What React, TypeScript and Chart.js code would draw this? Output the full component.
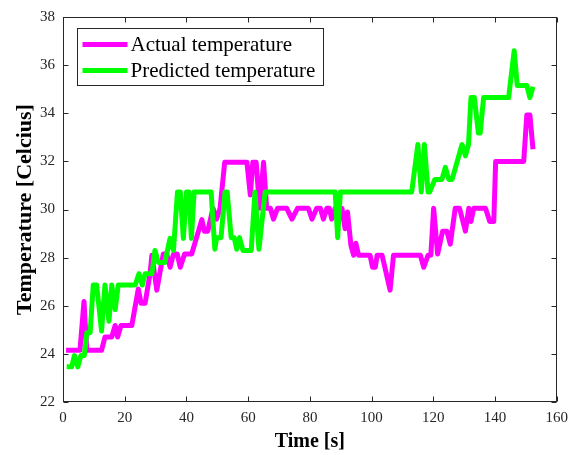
import React, { useEffect, useRef } from "react";
import { Chart, registerables } from "chart.js";

Chart.register(...registerables);

// ---- Data ----
const actualTime = [
  1, 5.5, 6.8, 7.7, 12.5, 13.6, 15.8, 16.9, 17.7, 18.8, 22.3, 24.4, 25.3, 26.6,
  28.2, 28.8, 30.4, 32.5, 33.6, 34.7, 35.8, 37, 38, 39.4, 41.7, 45, 45.8, 46.9,
  48.6, 49.8, 50.9, 52.4, 59.6, 60.7, 61.5, 62.6, 63.7, 65, 66, 67.2, 68.2, 69.5,
  72.5, 74.2, 76, 79.5, 80.7, 82.2, 83.4, 84.4, 85.5, 86.3, 87.1, 88.2, 89.3,
  90.4, 91.4, 92.2, 93.3, 94.2, 94.9, 95.8, 99.5, 100.3, 101.2, 101.8, 103.4,
  106, 107.1, 115.8, 116.9, 118.3, 119.2, 120.1, 121.4, 123, 124.4, 125.5, 127.1,
  128.5, 130.4, 131.5, 132.2, 133.1, 136.9, 138.3, 139.6, 140.2, 149.3, 150.3,
  151.3, 152.3,
];
const actualTemp = [
  24.15, 24.15, 26.18, 24.15, 24.15, 24.7, 24.7, 25.18, 24.7, 25.18, 25.18, 26.7,
  26.1, 26.1, 27.33, 28.1, 26.65, 28.15, 28.15, 27.6, 28.15, 28.15, 27.6, 28.15,
  28.15, 29.58, 29.1, 29.1, 30.05, 29.6, 30.05, 31.96, 31.96, 30.6, 31.96, 31.96,
  30.05, 31.96, 30.05, 30.05, 29.6, 30.05, 30.05, 29.6, 30.05, 30.05, 29.6, 30.05,
  30.05, 29.6, 30.05, 30.05, 29.6, 30.05, 29.6, 30.05, 29.2, 29.9, 28.5, 28.1,
  28.6, 28.1, 28.1, 27.6, 27.6, 28.1, 28.1, 26.65, 28.1, 28.1, 27.6, 28.1, 28.1,
  30.05, 28.15, 29.1, 29.1, 28.56, 30.05, 30.05, 29.1, 30.05, 29.5, 30.05, 30.05,
  29.5, 29.5, 32.0, 32.0, 33.93, 33.93, 32.5,
];

const predictedTime = [
  1.2, 2.8, 3.7, 4.8, 5.8, 6.9, 7.7, 8.8, 9.8, 10.9, 12.5, 13.6, 14.9, 15.8, 16.9,
  17.9, 23.4, 24.6, 25.7, 26.6, 28.8, 29.8, 30.9, 33, 34.7, 35.8, 37.1, 38, 39,
  40, 40.8, 41.6, 42.5, 48, 49.2, 49.8, 51.2, 52.5, 53.2, 54.5, 55.5, 56.3, 57.2,
  58.3, 61, 62.2, 63.5, 65.5, 88.2, 89, 89.9, 113, 115, 116.1, 117.1, 118.3,
  118.8, 120.5, 122.8, 123.9, 125, 126.1, 129.3, 130.4, 131.4, 132.2, 133.3,
  134.6, 135.2, 136.3, 144.4, 146.2, 147.2, 150.3, 151.3, 152.3,
];
const predictedTemp = [
  23.46, 23.46, 23.93, 23.46, 23.93, 23.93, 24.88, 24.88, 26.86, 26.86, 24.95,
  26.86, 25.36, 26.86, 25.84, 26.86, 26.86, 27.33, 26.86, 27.33, 27.33, 28.3,
  27.8, 27.8, 28.8, 28.3, 30.73, 30.73, 28.8, 30.73, 30.73, 28.8, 30.73, 30.73,
  28.35, 28.83, 28.83, 30.73, 30.73, 28.83, 28.83, 28.35, 28.83, 28.3, 28.3,
  30.73, 28.35, 30.73, 30.73, 28.83, 30.73, 30.73, 32.7, 30.73, 32.7, 30.73,
  30.73, 31.25, 31.25, 31.75, 31.25, 31.25, 32.7, 32.23, 32.7, 34.65, 34.65,
  33.18, 33.18, 34.65, 34.65, 36.6, 35.15, 35.15, 34.65, 35.1,
];

const xTicks = [0, 20, 40, 60, 80, 100, 120, 140, 160];
const yTicks = [22, 24, 26, 28, 30, 32, 34, 36, 38];
const seriesLabels = ["Actual temperature", "Predicted temperature"];
const seriesColors = ["#FF00FF", "#00FF00"];
const xTitle = "Time [s]";
const yTitle = "Temperature [Celcius]";

const SERIF = "'Liberation Serif', 'Times New Roman', serif";
const AXIS_COLOR = "#262626";

const frameAndLegend = {
  id: "frameAndLegend",
  afterDatasetsDraw(chart: any) {
    const { ctx, chartArea: a, scales } = chart;
    ctx.save();
    // axis box
    ctx.strokeStyle = AXIS_COLOR;
    ctx.lineWidth = 1;
    const L = Math.round(a.left) + 0.5;
    const T = Math.round(a.top) + 0.5;
    const R = Math.round(a.right) - 0.5;
    const B = Math.round(a.bottom) - 0.5;
    ctx.strokeRect(L, T, R - L, B - T);
    // inward ticks on all four sides
    const tl = 5;
    ctx.beginPath();
    for (const v of xTicks) {
      const x = Math.round(scales.x.getPixelForValue(v)) + 0.5;
      ctx.moveTo(x, B);
      ctx.lineTo(x, B - tl);
      ctx.moveTo(x, T);
      ctx.lineTo(x, T + tl);
    }
    for (const v of yTicks) {
      const y = Math.round(scales.y.getPixelForValue(v)) + 0.5;
      ctx.moveTo(L, y);
      ctx.lineTo(L + tl, y);
      ctx.moveTo(R, y);
      ctx.lineTo(R - tl, y);
    }
    ctx.stroke();

    // legend box
    const lx = Math.round(a.left + 14) + 0.5;
    const ly = Math.round(a.top + 11) + 0.5;
    const lw = 246;
    const lh = 57;
    ctx.fillStyle = "#ffffff";
    ctx.fillRect(lx, ly, lw, lh);
    ctx.strokeStyle = AXIS_COLOR;
    ctx.lineWidth = 1;
    ctx.strokeRect(lx, ly, lw, lh);
    ctx.font = `21px ${SERIF}`;
    ctx.textBaseline = "middle";
    ctx.textAlign = "left";
    chart.data.datasets.forEach((ds: any, i: number) => {
      const rowY = ly + 16 + i * 26;
      ctx.strokeStyle = ds.borderColor;
      ctx.lineWidth = 5;
      ctx.lineCap = "butt";
      ctx.beginPath();
      ctx.moveTo(lx + 5, rowY);
      ctx.lineTo(lx + 50, rowY);
      ctx.stroke();
      ctx.fillStyle = "#000000";
      ctx.fillText(ds.label, lx + 53, rowY + 1);
    });
    ctx.restore();
  },
};

export default function App() {
  const canvasRef = useRef<HTMLCanvasElement | null>(null);

  useEffect(() => {
    document.body.style.margin = "0";
    const canvas = canvasRef.current;
    if (!canvas) return;
    const mk = (ts: number[], vs: number[]) => ts.map((t, i) => ({ x: t, y: vs[i] }));
    const chart = new Chart(canvas, {
      type: "line",
      data: {
        datasets: [
          {
            label: seriesLabels[0],
            data: mk(actualTime, actualTemp),
            borderColor: seriesColors[0],
            backgroundColor: seriesColors[0],
            borderWidth: 5,
            pointRadius: 0,
            tension: 0,
            borderJoinStyle: "round",
            order: 1,
          },
          {
            label: seriesLabels[1],
            data: mk(predictedTime, predictedTemp),
            borderColor: seriesColors[1],
            backgroundColor: seriesColors[1],
            borderWidth: 5,
            pointRadius: 0,
            tension: 0,
            borderJoinStyle: "round",
            order: 0,
          },
        ],
      },
      options: {
        responsive: false,
        animation: false,
        devicePixelRatio: 1,
        layout: { padding: { top: 12, right: 18, left: 0, bottom: 0 } },
        plugins: {
          legend: { display: false },
          tooltip: { enabled: false },
        },
        scales: {
          x: {
            type: "linear",
            min: 0,
            max: 160,
            afterFit: (s: any) => {
              s.height = 53;
            },
            afterBuildTicks: (s: any) => {
              s.ticks = xTicks.map((v) => ({ value: v }));
            },
            grid: { display: false, drawTicks: false },
            border: { display: false },
            ticks: {
              padding: 7,
              color: AXIS_COLOR,
              font: { family: SERIF, size: 15 },
              maxRotation: 0,
            },
            title: {
              display: true,
              text: xTitle,
              color: "#000000",
              font: { family: SERIF, size: 20, weight: "bold" },
              padding: { top: 0, bottom: 1 },
            },
          },
          y: {
            type: "linear",
            min: 22,
            max: 38,
            afterFit: (s: any) => {
              s.width = 63;
            },
            afterBuildTicks: (s: any) => {
              s.ticks = yTicks.map((v) => ({ value: v }));
            },
            grid: { display: false, drawTicks: false },
            border: { display: false },
            ticks: {
              padding: 8,
              color: AXIS_COLOR,
              font: { family: SERIF, size: 15 },
            },
            title: {
              display: true,
              text: yTitle,
              color: "#000000",
              font: { family: SERIF, size: 22, weight: "bold" },
              padding: { top: 12, bottom: 0 },
            },
          },
        },
      },
      plugins: [frameAndLegend],
    });
    return () => chart.destroy();
  }, []);

  return (
    <div style={{ width: 575, height: 455, background: "#ffffff" }}>
      <canvas ref={canvasRef} width={575} height={455} />
    </div>
  );
}
